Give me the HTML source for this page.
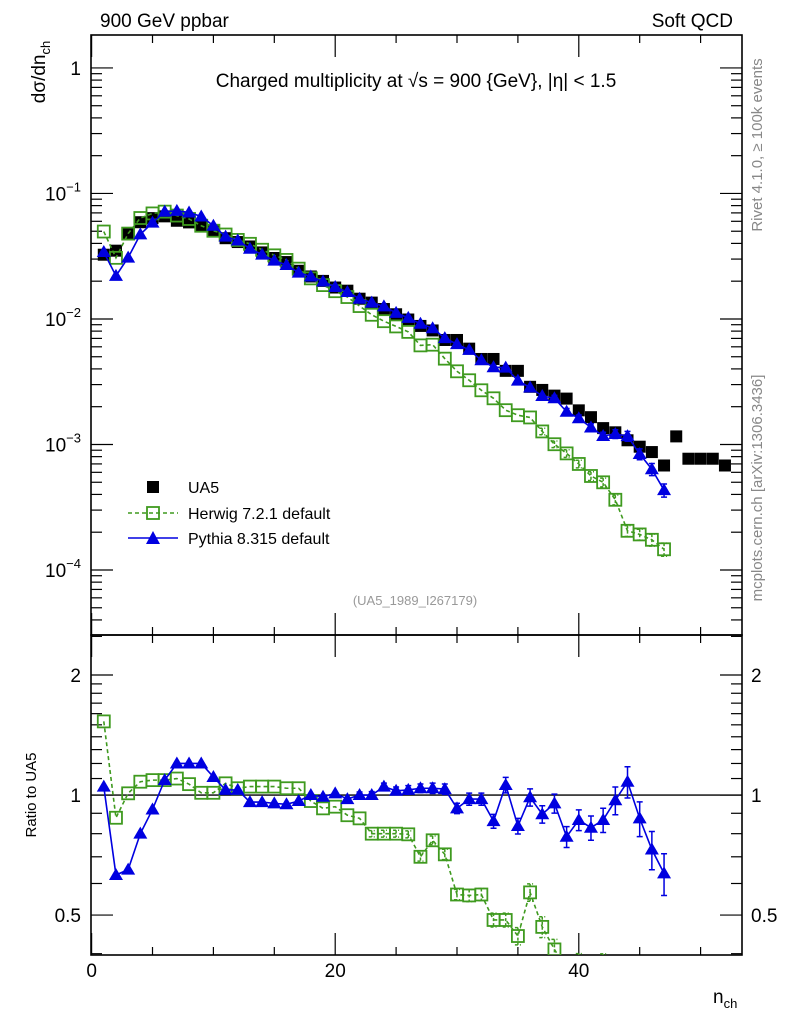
<!DOCTYPE html>
<html><head><meta charset="utf-8"><style>
html,body{margin:0;padding:0;background:#fff;overflow:hidden;width:786px;height:1024px;}
svg{display:block;font-family:"Liberation Sans",sans-serif;}
</style></head><body>
<svg id="chart" width="786" height="1024" viewBox="0 0 786 1024" xmlns="http://www.w3.org/2000/svg">
<defs>
<clipPath id="clipMain"><rect x="91" y="35" width="651" height="600"/></clipPath>
<clipPath id="clipRatio"><rect x="91" y="635" width="651" height="320"/></clipPath>
</defs>
<text x="100" y="27" font-size="19">900 GeV ppbar</text>
<text x="733" y="27" font-size="19" text-anchor="end">Soft QCD</text>
<text x="416" y="87" font-size="19" text-anchor="middle">Charged multiplicity at √s = 900 {GeV}, |η| &lt; 1.5</text>
<text transform="translate(45,72) rotate(-90)" font-size="19" text-anchor="middle">dσ/dn<tspan font-size="13" dy="5">ch</tspan></text>
<text transform="translate(36,795) rotate(-90)" font-size="15" text-anchor="middle">Ratio to UA5</text>
<text x="713" y="1003" font-size="19">n<tspan font-size="13" dy="5">ch</tspan></text>
<text transform="translate(762,145) rotate(-90)" font-size="15" fill="#888" text-anchor="middle">Rivet 4.1.0, ≥ 100k events</text>
<text transform="translate(762,488) rotate(-90)" font-size="15" fill="#888" text-anchor="middle">mcplots.cern.ch [arXiv:1306.3436]</text>
<text x="415" y="605" font-size="13" fill="#999" text-anchor="middle">(UA5_1989_I267179)</text>
<g id="axes"></g>
<g id="mainData" clip-path="url(#clipMain)"></g>
<g id="ratioData" clip-path="url(#clipRatio)"></g>
<g id="legend">
<rect x="147" y="481" width="12" height="12" fill="#000"/>
<text x="188" y="493" font-size="16">UA5</text>
<line x1="128" y1="513" x2="178" y2="513" stroke="#3f9a1f" stroke-width="1.5" stroke-dasharray="4,3"/>
<rect x="147" y="507" width="12" height="12" fill="none" stroke="#3f9a1f" stroke-width="1.8"/>
<text x="188" y="519" font-size="16">Herwig 7.2.1 default</text>
<line x1="128" y1="538" x2="178" y2="538" stroke="#0000e0" stroke-width="1.5"/>
<polygon points="153,531 160,544 146,544" fill="#0000e0"/>
<text x="188" y="544" font-size="16">Pythia 8.315 default</text>
</g>
</svg>
<script>
const nch = [1,2,3,4,5,6,7,8,9,10,11,12,13,14,15,16,17,18,19,20,21,22,23,24,25,26,27,28,29,30,31,32,33,34,35,36,37,38,39,40,41,42,43,44,45,46,47,48,49,50,51,52];
const ua5 = [0.0325,0.035,0.0474,0.059,0.0636,0.0657,0.0606,0.0588,0.0546,0.0498,0.044,0.041,0.0378,0.0339,0.0306,0.0284,0.0242,0.0218,0.0201,0.0178,0.0168,0.0145,0.0135,0.012,0.0109,0.0099,0.0088,0.0081,0.0068,0.0068,0.0058,0.0048,0.0048,0.00386,0.00386,0.00288,0.00272,0.00245,0.00232,0.00187,0.00165,0.00135,0.00125,0.00108,0.00096,0.00087,0.00068,0.00116,0.00077,0.00077,0.00077,0.00068];
const herwigRatio = [1.53,0.877,1.01,1.08,1.09,1.09,1.10,1.065,1.013,1.013,1.07,1.04,1.05,1.05,1.05,1.04,1.04,0.966,0.926,0.935,0.89,0.874,0.80,0.80,0.80,0.797,0.70,0.77,0.71,0.563,0.56,0.563,0.486,0.486,0.443,0.57,0.467,0.41,0.366,0.374,0.34,0.37,0.29,0.19,0.20,0.20,0.215];
const pythiaRatio = [1.05,0.63,0.65,0.80,0.92,1.09,1.20,1.20,1.20,1.11,1.03,1.03,0.96,0.96,0.953,0.948,0.966,1.0,0.99,1.01,0.977,1.0,1.0,1.05,1.025,1.03,1.04,1.04,1.035,0.926,0.977,0.977,0.86,1.06,0.836,0.987,0.895,0.953,0.786,0.866,0.828,0.866,0.97,1.08,0.874,0.73,0.636];
const herwigErr = [0.01,0.01,0.01,0.01,0.01,0.01,0.01,0.01,0.01,0.01,0.01,0.01,0.012,0.012,0.012,0.012,0.014,0.014,0.015,0.015,0.016,0.016,0.018,0.02,0.02,0.02,0.025,0.025,0.03,0.03,0.035,0.035,0.04,0.04,0.05,0.05,0.06,0.06,0.07,0.07,0.08,0.08,0.09,0.1,0.1,0.11,0.12];
const pythiaErr = [0.01,0.01,0.01,0.01,0.01,0.01,0.01,0.01,0.01,0.01,0.01,0.01,0.01,0.01,0.012,0.012,0.012,0.014,0.015,0.015,0.016,0.018,0.02,0.02,0.022,0.025,0.025,0.03,0.03,0.03,0.035,0.035,0.04,0.045,0.045,0.05,0.05,0.055,0.06,0.06,0.07,0.07,0.08,0.09,0.1,0.11,0.12];
const xTicks = [0,20,40];
const mainTicks = [0,-1,-2,-3,-4];
const ratioTickLabels = ["2","1","0.5"];
const ratioTickVals = [2,1,0.5];

const NS="http://www.w3.org/2000/svg";
const X0=91,X1=742,XMIN=-0.05,XMAX=53.4;
const MY0=35,MY1=635,RY0=635,RY1=955;
const LOGTOP=Math.log10(1.83),LOGBOT=-4.518;
const RTOP=Math.log2(2.52),RBOT=Math.log2(0.397);
function xs(v){return X0+(v-XMIN)/(XMAX-XMIN)*(X1-X0);}
function ym(v){return MY0+(LOGTOP-Math.log10(v))/(LOGTOP-LOGBOT)*(MY1-MY0);}
function yr(v){return RY0+(RTOP-Math.log2(v))/(RTOP-RBOT)*(RY1-RY0);}
function mk(tag,attrs,parent){const e=document.createElementNS(NS,tag);for(const k in attrs)e.setAttribute(k,attrs[k]);parent.appendChild(e);return e;}

const axes=document.getElementById('axes');
let f1=mk('rect',{x:X0,y:MY0,width:X1-X0,height:MY1-MY0,fill:'none',stroke:'#000','stroke-width':1.6},axes);


let f2=mk('rect',{x:X0,y:RY0,width:X1-X0,height:RY1-RY0,fill:'none',stroke:'#000','stroke-width':1.6},axes);


for(let v=0;v<=50;v+=5){
  const X=xs(v);const major=(v%20===0);
  [[MY0,1],[MY1,-1],[RY0,1],[RY1,-1]].forEach(([y,d])=>{mk('line',{x1:X,y1:y,x2:X,y2:y+d*(major?22:8),stroke:'#000','stroke-width':1.2},axes);});
}
xTicks.forEach(v=>{const t=mk('text',{x:xs(v),y:977,'font-size':19,'text-anchor':'middle'},axes);t.textContent=v;

});
for(let d=-5;d<=0;d++){
  for(let m=1;m<=9;m++){
    const v=m*Math.pow(10,d);const Y=ym(v);if(Y<MY0||Y>MY1)continue;
    const L=m===1?22:11;
    mk('line',{x1:X0,y1:Y,x2:X0+L,y2:Y,stroke:'#000','stroke-width':1.2},axes);
    mk('line',{x1:X1,y1:Y,x2:X1-L,y2:Y,stroke:'#000','stroke-width':1.2},axes);
  }
}
mainTicks.forEach(d=>{const Y=ym(Math.pow(10,d));
  const t=mk('text',{x:81,y:Y+7,'font-size':19,'text-anchor':'end'},axes);
  
  
  if(d===0){t.textContent='1';}else{t.textContent='10';const s=mk('tspan',{dy:-9,'font-size':13},t);s.textContent='−'+(-d);}
});
[0.4,0.5,0.6,0.7,0.8,0.9,1,1.1,1.2,1.3,1.4,1.5,1.6,1.7,1.8,1.9,2,2.5].forEach(v=>{
  const Y=yr(v);if(Y<RY0||Y>RY1)return;const major=(v===0.5||v===1||v===2);const L=major?22:11;
  mk('line',{x1:X0,y1:Y,x2:X0+L,y2:Y,stroke:'#000','stroke-width':1.2},axes);
  mk('line',{x1:X1,y1:Y,x2:X1-L,y2:Y,stroke:'#000','stroke-width':1.2},axes);
});
ratioTickVals.forEach((v,i)=>{const Y=yr(v);
  const t=mk('text',{x:81,y:Y+7,'font-size':19,'text-anchor':'end'},axes);t.textContent=ratioTickLabels[i];
  
  
  const t2=mk('text',{x:751,y:Y+7,'font-size':19},axes);t2.textContent=ratioTickLabels[i];
  
  
});
let ul=mk('line',{x1:X0,y1:yr(1),x2:X1,y2:yr(1),stroke:'#000','stroke-width':1.3},axes);



const md=document.getElementById('mainData'),rd=document.getElementById('ratioData');
const GREEN='#3f9a1f',BLUE='#0000e0';
ua5.forEach((v,i)=>{const r=mk('rect',{x:xs(nch[i])-6,y:ym(v)-6,width:12,height:12,fill:'#000'},md);

});
function series(ratio,err,color,dash,name,isTri){
  const absV=ratio.map((r,i)=>r*ua5[i]);
  [[md,absV,ym],[rd,ratio,yr]].forEach(([g,vals,yf])=>{
    const pts=vals.map((v,i)=>xs(nch[i])+','+yf(v)).join(' ');
    const pl=mk('polyline',{points:pts,fill:'none',stroke:color,'stroke-width':1.6},g);
    if(dash)pl.setAttribute('stroke-dasharray','4,3');
    
    
    vals.forEach((v,i)=>{
      const X=xs(nch[i]),lo=yf(v*(1-err[i])),hi=yf(v*(1+err[i]));
      if(Math.abs(lo-hi)>6){
        const eb=mk('path',{d:`M${X},${hi}V${lo}M${X-3},${hi}H${X+3}M${X-3},${lo}H${X+3}`,stroke:color,'stroke-width':1.5,fill:'none'},g);
        if(dash)eb.setAttribute('stroke-dasharray','3,2');
        
        
      }
      const Y=yf(v);let m;
      if(isTri){m=mk('polygon',{points:`${X},${Y-7} ${X+7},${Y+5} ${X-7},${Y+5}`,fill:color},g);}
      else{m=mk('rect',{x:X-6,y:Y-6,width:12,height:12,fill:'#fff','fill-opacity':0,stroke:color,'stroke-width':1.8},g);}
      
      
    });
  });
}
series(herwigRatio,herwigErr,GREEN,true,'herwig',false);
series(pythiaRatio,pythiaErr,BLUE,false,'pythia',true);
</script>
</body></html>
